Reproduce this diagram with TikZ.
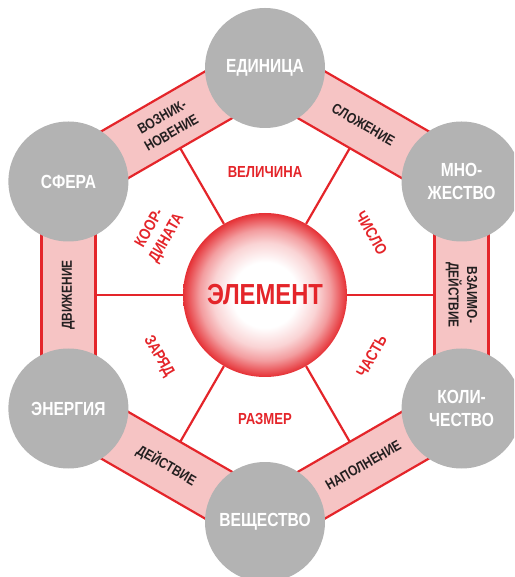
\documentclass[tikz,border=0pt]{standalone}
\usepackage{fontspec}
\setmainfont{Liberation Sans}
\newfontfamily\cond[FakeStretch=0.82]{Liberation Sans}
\usetikzlibrary{calc}
\definecolor{myred}{RGB}{228,37,42}
\definecolor{bandpink}{RGB}{246,196,196}
\definecolor{circgray}{RGB}{179,179,179}
\definecolor{txtdark}{RGB}{35,31,32}
\pgfdeclareradialshading{elemshade}{\pgfpoint{0bp}{0bp}}{color(0bp)=(white); color(10bp)=(white); color(16bp)=(myred!20); color(20bp)=(myred!45); color(23.5bp)=(myred!80); color(25bp)=(myred!95); color(50bp)=(myred!95)}
\newcommand\bandstrip[4]{%
  \fill[bandpink] ($(#1)+(#3:27)$) -- ($(#2)+(#3:27)$) -- ($(#2)+(#4:27)$) -- ($(#1)+(#4:27)$) -- cycle;
  \draw[redline] ($(#1)+(#3:27)$) -- ($(#2)+(#3:27)$);
  \draw[redline] ($(#1)+(#4:27)$) -- ($(#2)+(#4:27)$);
}
\begin{document}
\begin{tikzpicture}[x=1pt,y=1pt,
  redline/.style={draw=myred,line width=2.2pt},
  graycirc/.style={circle,fill=circgray,minimum size=120,inner sep=0,text=white,align=center,font=\cond\bfseries\fontsize{19}{22.5}\selectfont},
  bandlabel/.style={inner sep=0,text=txtdark,align=center,font=\cond\bfseries\fontsize{14.5}{18.5}\selectfont},
  inlabel/.style={inner sep=0,text=myred,align=center,font=\cond\bfseries\fontsize{16}{19.5}\selectfont},
  elemnode/.style={circle,minimum size=164,inner sep=0,shading=elemshade,text=myred,font=\cond\bfseries\fontsize{29}{34}\selectfont}]
\useasboundingbox (-265,-282) rectangle (249,295);
\clip (-265,-282) rectangle (249,295);
% vertices
\coordinate (p1) at (90:227);
\coordinate (p2) at (30:227);
\coordinate (p3) at (-30:227);
\coordinate (p4) at (-90:227);
\coordinate (p5) at (210:227);
\coordinate (p6) at (150:227);
% bands
\bandstrip{p1}{p2}{60}{240}
\bandstrip{p2}{p3}{0}{180}
\bandstrip{p3}{p4}{-60}{120}
\bandstrip{p4}{p5}{-120}{60}
\bandstrip{p5}{p6}{180}{0}
\bandstrip{p6}{p1}{120}{300}
% spoke ends
\coordinate (m0) at (0:169.6);
\coordinate (m60) at (60:169.6);
\coordinate (m120) at (120:169.6);
\coordinate (m180) at (180:169.6);
\coordinate (m240) at (240:169.6);
\coordinate (m300) at (300:169.6);
% centre
\node[elemnode] (elem) at (0,0) {ЭЛЕМЕНТ};
\foreach \m in {m0,m60,m120,m180,m240,m300}
  \draw[redline] (elem) -- (\m);
% gray circles
\node[graycirc] (edin) at (p1) {ЕДИНИЦА};
\node[graycirc] (mnozh) at (p2) {МНО-\\ЖЕСТВО};
\node[graycirc] (kol) at (p3) {КОЛИ-\\ЧЕСТВО};
\node[graycirc] (vesh) at (p4) {ВЕЩЕСТВО};
\node[graycirc] (energ) at (p5) {ЭНЕРГИЯ};
\node[graycirc] (sfera) at (p6) {СФЕРА};
% band labels
\node[bandlabel,rotate=-30] (slozh) at (60:196.6) {СЛОЖЕНИЕ};
\node[bandlabel,rotate=-90] (vzaim) at (0:196.6) {ВЗАИМО-\\ДЕЙСТВИЕ};
\node[bandlabel,rotate=30] (napol) at (-60:196.6) {НАПОЛНЕНИЕ};
\node[bandlabel,rotate=-30] (deist) at (-120:196.6) {ДЕЙСТВИЕ};
\node[bandlabel,rotate=90] (dvizh) at (180:196.6) {ДВИЖЕНИЕ};
\node[bandlabel,rotate=30] (vozn) at (120:196.6) {ВОЗНИК-\\НОВЕНИЕ};
% inner labels
\node[inlabel] (velich) at (90:123) {ВЕЛИЧИНА};
\node[inlabel,rotate=-60] (chislo) at (30:123) {ЧИСЛО};
\node[inlabel,rotate=60] (chast) at (-30:123) {ЧАСТЬ};
\node[inlabel] (razmer) at (-90:124) {РАЗМЕР};
\node[inlabel,rotate=-60] (zaryad) at (210:123) {ЗАРЯД};
\node[inlabel,rotate=60] (koord) at (150:123) {КООР-\\ДИНАТА};
\end{tikzpicture}
\end{document}
